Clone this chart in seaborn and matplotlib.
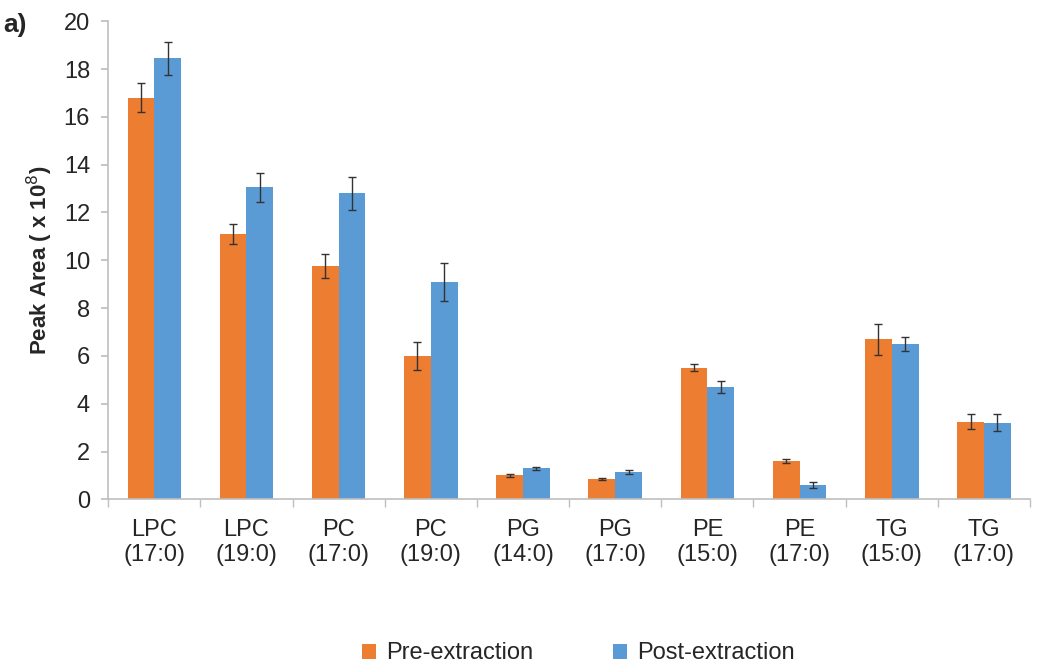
import numpy as np
import pandas as pd
import seaborn as sns
import matplotlib.pyplot as plt
from matplotlib.ticker import FixedLocator

sns.set_theme(style="white")
plt.rcParams['font.family'] = ['Liberation Sans', 'DejaVu Sans']

categories = ["LPC\n(17:0)", "LPC\n(19:0)", "PC\n(17:0)", "PC\n(19:0)", "PG\n(14:0)",
              "PG\n(17:0)", "PE\n(15:0)", "PE\n(17:0)", "TG\n(15:0)", "TG\n(17:0)"]
pre = [16.8, 11.1, 9.75, 6.0, 1.0, 0.85, 5.5, 1.6, 6.7, 3.25]
post = [18.45, 13.05, 12.8, 9.1, 1.3, 1.15, 4.7, 0.6, 6.5, 3.2]
pre_err = [0.6, 0.4, 0.5, 0.6, 0.05, 0.05, 0.15, 0.08, 0.65, 0.3]
post_err = [0.7, 0.6, 0.7, 0.8, 0.06, 0.08, 0.25, 0.12, 0.3, 0.35]

df = pd.DataFrame({
    "cat": categories * 2,
    "value": pre + post,
    "err": pre_err + post_err,
    "group": ["Pre-extraction"] * 10 + ["Post-extraction"] * 10,
})

fig = plt.figure(figsize=(10.5, 6.64), dpi=100)
ax = fig.add_axes([0.103, 0.248, 0.878, 0.72])

sns.barplot(data=df, x="cat", y="value", hue="group", ax=ax, width=0.58,
            palette=["#ED7D31", "#5B9BD5"], saturation=1, errorbar=None, linewidth=0)

# error bars on top of each bar
for cont, errs in zip(ax.containers, [pre_err, post_err]):
    xs = [p.get_x() + p.get_width() / 2 for p in cont]
    hs = [p.get_height() for p in cont]
    ax.errorbar(xs, hs, yerr=errs, fmt="none", ecolor="#333333", elinewidth=1, capsize=3, capthick=1)

ax.set_xlim(-0.5, 9.5)
ax.set_ylim(0, 20)
ax.set_yticks(np.arange(0, 21, 2))
ax.tick_params(axis="y", labelsize=17, length=5, color="#bfbfbf", left=True, pad=8)
ax.tick_params(axis="x", which="major", labelsize=17, length=0, pad=14)
ax.xaxis.set_minor_locator(FixedLocator(np.arange(-0.5, 10, 1)))
ax.tick_params(axis="x", which="minor", length=6, color="#bfbfbf", bottom=True)
ax.set_xlabel("")
ax.set_ylabel("Peak Area ( x 10$^8$)", fontsize=16, fontweight="bold", labelpad=6)

for s in ["top", "right"]:
    ax.spines[s].set_visible(False)
for s in ["left", "bottom"]:
    ax.spines[s].set_color("#bfbfbf")
    ax.spines[s].set_linewidth(1.2)

leg = ax.legend(loc="upper center", bbox_to_anchor=(0.51, -0.255), ncol=2, frameon=False,
                fontsize=17, handlelength=0.6, handleheight=0.6, columnspacing=3.4, handletextpad=0.4)

fig.text(0.003, 0.952, "a)", fontsize=19, fontweight="bold")

fig.savefig("out.png", dpi=100)
